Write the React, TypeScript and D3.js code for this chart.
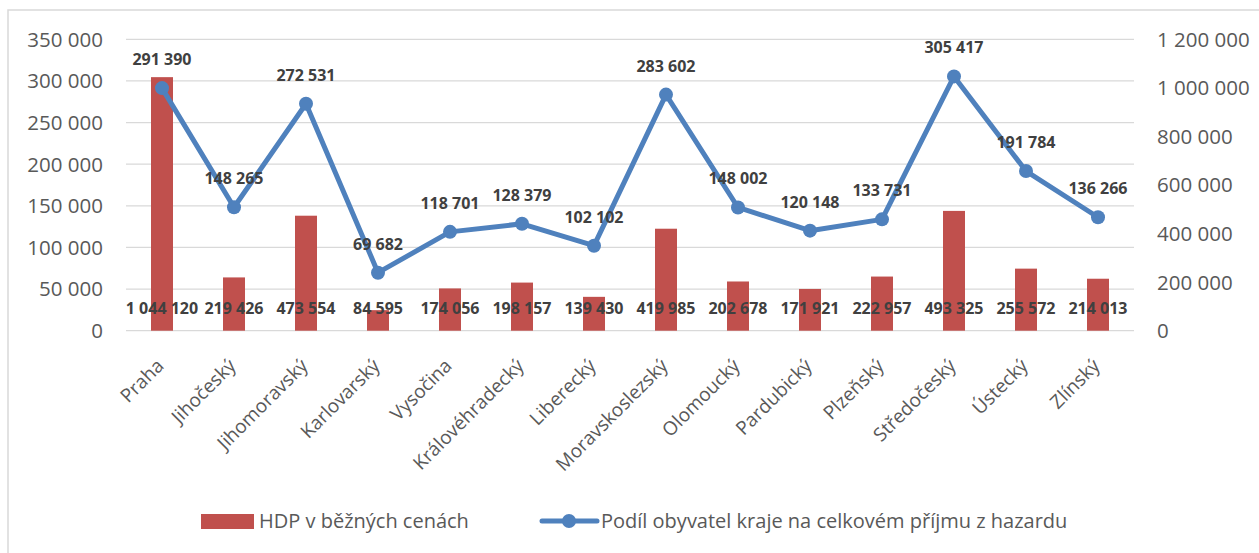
import React from 'react';
import * as d3 from 'd3';

const W = 1259;
const H = 553;

const regions = [
  'Praha', 'Jihočeský', 'Jihomoravský', 'Karlovarský', 'Vysočina', 'Královéhradecký', 'Liberecký',
  'Moravskoslezský', 'Olomoucký', 'Pardubický', 'Plzeňský', 'Středočeský', 'Ústecký', 'Zlínský',
];
// line series, left axis
const gamblingShare = [
  291390, 148265, 272531, 69682, 118701, 128379, 102102, 283602, 148002, 120148, 133731, 305417, 191784, 136266,
];
// bar series, right axis
const gdp = [
  1044120, 219426, 473554, 84595, 174056, 198157, 139430, 419985, 202678, 171921, 222957, 493325, 255572, 214013,
];
const leftTicks = [0, 50000, 100000, 150000, 200000, 250000, 300000, 350000];
const rightTicks = [0, 200000, 400000, 600000, 800000, 1000000, 1200000];
const barName = 'HDP v běžných cenách';
const lineName = 'Podíl obyvatel kraje na celkovém příjmu z hazardu';

const plot = { left: 126, right: 1134, top: 39.3, bottom: 330.7 };
const font = '"Open Sans", sans-serif';
const barColor = '#C0504D';
const lineColor = '#4F81BD';

const fmt = (v: number) => d3.format(',')(v).replace(/,/g, ' ');

const x = d3.scaleBand<string>().domain(regions).range([plot.left, plot.right]);
const yLeft = d3.scaleLinear().domain([0, 350000]).range([plot.bottom, plot.top]);
const yRight = d3.scaleLinear().domain([0, 1200000]).range([plot.bottom, plot.top]);
const cx = (r: string) => (x(r) as number) + x.bandwidth() / 2;

const line = d3
  .line<number>()
  .x((_, i) => cx(regions[i]))
  .y(d => yLeft(d));

const barW = 22;

export default function App() {
  return (
    <svg width={W} height={H} style={{ position: 'absolute', left: 0, top: 0, background: '#fff' }}>
      <path d={`M8,${H + 5}V10H${W + 5}`} fill="none" stroke="#d9d9d9" strokeWidth={1.5} />

      {/* grid */}
      {leftTicks.map(t => (
        <line key={t} x1={plot.left} x2={plot.right} y1={yLeft(t)} y2={yLeft(t)} stroke="#d9d9d9" strokeWidth={1.3} />
      ))}

      {/* left axis labels */}
      {leftTicks.map(t => (
        <text key={'l' + t} x={103} y={yLeft(t)} dy="0.36em" textAnchor="end" fontFamily={font} fontSize={20.5} fill="#595959">
          {fmt(t)}
        </text>
      ))}
      {/* right axis labels */}
      {rightTicks.map(t => (
        <text key={'r' + t} x={1157} y={yRight(t)} dy="0.36em" textAnchor="start" fontFamily={font} fontSize={20.5} fill="#595959">
          {fmt(t)}
        </text>
      ))}

      {/* bars */}
      {gdp.map((v, i) => (
        <rect key={'b' + i} x={cx(regions[i]) - barW / 2} y={yRight(v)} width={barW} height={plot.bottom - yRight(v)} fill={barColor} />
      ))}

      {/* line */}
      <path d={line(gamblingShare) as string} fill="none" stroke={lineColor} strokeWidth={5} strokeLinejoin="round" strokeLinecap="round" />
      {gamblingShare.map((v, i) => (
        <circle key={'c' + i} cx={cx(regions[i])} cy={yLeft(v)} r={7} fill={lineColor} />
      ))}

      {/* bar labels (inside base) */}
      {gdp.map((v, i) => (
        <text key={'bl' + i} x={cx(regions[i])} y={314} textAnchor="middle" fontFamily={font} fontWeight="bold" fontSize={16} fill="#404040">
          {fmt(v)}
        </text>
      ))}
      {/* line labels (above) */}
      {gamblingShare.map((v, i) => (
        <text key={'ll' + i} x={cx(regions[i])} y={yLeft(v) - 23} textAnchor="middle" fontFamily={font} fontWeight="bold" fontSize={16} fill="#404040">
          {fmt(v)}
        </text>
      ))}

      {/* category labels */}
      {regions.map(r => (
        <text
          key={'x' + r}
          transform={`translate(${cx(r) + 3},${367}) rotate(-45)`}
          textAnchor="end"
          fontFamily={font}
          fontSize={19}
          fill="#595959"
        >
          {r}
        </text>
      ))}

      {/* legend */}
      <rect x={201} y={514} width={53} height={15} fill={barColor} />
      <text x={259} y={521} dy="0.36em" fontFamily={font} fontSize={20} fill="#595959">
        {barName}
      </text>
      <line x1={542} x2={597} y1={521} y2={521} stroke={lineColor} strokeWidth={5} strokeLinecap="round" />
      <circle cx={569} cy={521} r={7} fill={lineColor} />
      <text x={601} y={521} dy="0.36em" fontFamily={font} fontSize={20} fill="#595959">
        {lineName}
      </text>
    </svg>
  );
}
